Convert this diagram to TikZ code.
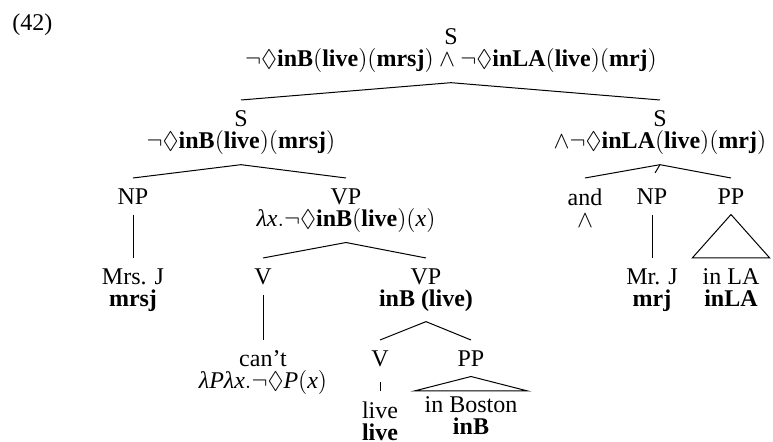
\documentclass[tikz,border=0pt]{standalone}
\usepackage{amssymb}
\usepackage{fontspec}
\setmainfont{Liberation Serif}
\tikzset{
  tn/.style={align=center, inner xsep=0pt, inner ysep=5pt, anchor=north, font=\fontsize{12}{11}\selectfont},
  roof/.style={tn, inner xsep=5pt},
  branch/.style={line width=0.5pt}
}
\newcommand{\negdia}{\neg\Diamond}
\newcommand{\lam}{\textit{λ}}
\newcommand{\vx}{\textit{x}}
\newcommand{\vP}{\textit{P}}
\begin{document}
\begin{tikzpicture}[x=0.5pt,y=-0.5pt]
\useasboundingbox (0,0) rectangle (773,442);
% example number
\node[font=\fontsize{12}{11}\selectfont, inner sep=0pt, anchor=base west] (exnum) at (12,31) {(42)};
% tree nodes
\node[tn] (top) at (451,18) {S\\$\negdia\textbf{inB}(\textbf{live})(\textbf{mrsj})\wedge\negdia\textbf{inLA}(\textbf{live})(\textbf{mrj})$};
\node[tn] (sl) at (241,100) {S\\$\negdia\textbf{inB}(\textbf{live})(\textbf{mrsj})$};
\node[tn] (sr) at (660,100) {S\\$\wedge\negdia\textbf{inLA}(\textbf{live})(\textbf{mrj})$};
\node[tn] (npl) at (133,178) {NP};
\node[tn] (vpl) at (346,178) {VP\\$\lam\vx.\negdia\textbf{inB}(\textbf{live})(\vx)$};
\node[tn] (conj) at (585,178) {and\\$\wedge$};
\node[tn] (npr) at (652,178) {NP};
\node[tn] (ppr) at (731,178) {PP};
\node[tn] (mrsj) at (133,258) {Mrs. J\\\textbf{mrsj}};
\node[tn] (vl) at (263,258) {V};
\node[tn] (vpb) at (426,258) {VP\\\textbf{inB (live)}};
\node[tn] (mrj) at (652,258) {Mr. J\\\textbf{mrj}};
\node[roof] (inla) at (731,258) {in LA\\\textbf{inLA}};
\node[tn] (cant) at (263,340) {can't\\$\lam\vP\lam\vx.\negdia\vP(\vx)$};
\node[tn] (vb) at (380,340) {V};
\node[tn] (ppb) at (471,340) {PP};
\node[tn] (live) at (380,391) {live\\\textbf{live}};
\node[roof, inner ysep=2.5pt] (inbos) at (471,391) {in Boston\\\textbf{inB}};
% branches
\draw[branch] (top.south) -- (sl.north);
\draw[branch] (top.south) -- (sr.north);
\draw[branch] (sl.south) -- (npl.north);
\draw[branch] (sl.south) -- (vpl.north);
\draw[branch] (sr.south) -- (conj.north);
\draw[branch, shorten >=3pt] (sr.south) -- (npr.north);
\draw[branch] (sr.south) -- (ppr.north);
\draw[branch] (npl.south) -- (mrsj.north);
\draw[branch] (vpl.south) -- (vl.north);
\draw[branch] (vpl.south) -- (vpb.north);
\draw[branch] (npr.south) -- (mrj.north);
\draw[branch] (ppr.south) -- (inla.north west) -- (inla.north east) -- cycle;
\draw[branch] (vl.south) -- (cant.north);
\draw[branch] (vpb.south) -- (vb.north);
\draw[branch] (vpb.south) -- (ppb.north);
\draw[branch, shorten <=2.5pt] (vb.south) -- (live.north);
\draw[branch] (ppb.south) -- (inbos.north west) -- (inbos.north east) -- cycle;
\end{tikzpicture}
\end{document}
